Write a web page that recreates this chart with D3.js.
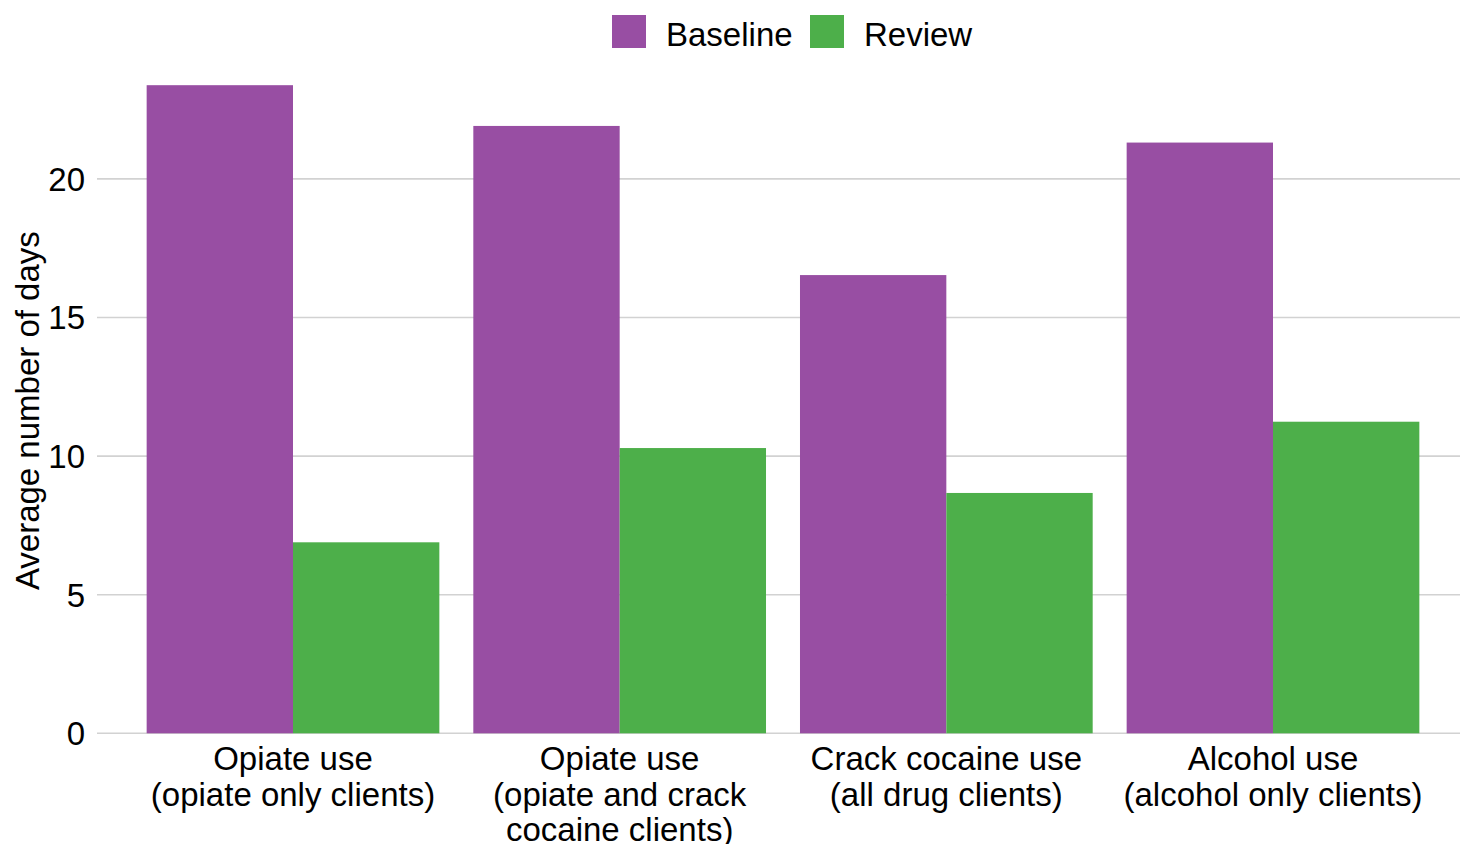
<!DOCTYPE html>
<html>
<head>
<meta charset="utf-8">
<script src="https://cdn.jsdelivr.net/npm/d3@7"></script>
<style>
  html, body { margin: 0; padding: 0; background: #fff; }
  svg { display: block; font-family: "Liberation Sans", Arial, sans-serif; }
</style>
</head>
<body>
<svg id="chart" width="1460" height="844"></svg>
<script>
// Average number of days of use, at baseline and at review
const categories = [
  ["Opiate use", "(opiate only clients)"],
  ["Opiate use", "(opiate and crack", "cocaine clients)"],
  ["Crack cocaine use", "(all drug clients)"],
  ["Alcohol use", "(alcohol only clients)"]
];
const seriesNames = ["Baseline", "Review"];
const baselineValues = [23.38, 21.91, 16.53, 21.31];
const reviewValues = [6.89, 10.29, 8.67, 11.24];
const yTicks = [0, 5, 10, 15, 20];
const yTitle = "Average number of days";

const colors = { Baseline: "#984EA3", Review: "#4DAF4A" };

const svg = d3.select("#chart");
const W = 1460, H = 844;
const plot = { left: 97, right: 1469, top: 68, bottom: 733.3 };

const keys = categories.map((c, i) => "c" + i);
const x0 = d3.scaleBand()
  .domain(keys)
  .range([plot.left, plot.right])
  .paddingInner(0.104)
  .paddingOuter(0.152);
const x1 = d3.scaleBand()
  .domain(seriesNames)
  .range([0, x0.bandwidth()]);
const y = d3.scaleLinear()
  .domain([0, 24])
  .range([plot.bottom, plot.top]);

// Horizontal gridlines
svg.append("g")
  .selectAll("line")
  .data(yTicks)
  .join("line")
  .attr("x1", plot.left)
  .attr("x2", W)
  .attr("y1", d => y(d))
  .attr("y2", d => y(d))
  .attr("stroke", "#d2d2d2")
  .attr("stroke-width", 1.6);

// Y tick labels
svg.append("g")
  .selectAll("text")
  .data(yTicks)
  .join("text")
  .attr("x", 85)
  .attr("y", d => y(d))
  .attr("dy", "0.36em")
  .attr("text-anchor", "end")
  .attr("font-size", 33)
  .attr("fill", "#000")
  .text(d => d);

// Y axis title
svg.append("text")
  .attr("transform", `translate(39, ${(plot.bottom + 88) / 2}) rotate(-90)`)
  .attr("text-anchor", "middle")
  .attr("font-size", 33)
  .attr("fill", "#000")
  .text(yTitle);

// Bars
const rows = categories.map((c, i) => ({
  key: keys[i],
  values: [
    { series: "Baseline", value: baselineValues[i] },
    { series: "Review", value: reviewValues[i] }
  ]
}));

svg.append("g")
  .selectAll("g")
  .data(rows)
  .join("g")
  .attr("transform", d => `translate(${x0(d.key)},0)`)
  .selectAll("rect")
  .data(d => d.values)
  .join("rect")
  .attr("x", d => x1(d.series))
  .attr("width", x1.bandwidth())
  .attr("y", d => y(d.value))
  .attr("height", d => y(0) - y(d.value))
  .attr("fill", d => colors[d.series]);

// Category labels
const xLabels = svg.append("g")
  .selectAll("text")
  .data(categories.map((c, i) => ({ key: keys[i], lines: c })))
  .join("text")
  .attr("x", d => x0(d.key) + x0.bandwidth() / 2)
  .attr("y", 770)
  .attr("text-anchor", "middle")
  .attr("font-size", 33)
  .attr("fill", "#000");
xLabels.selectAll("tspan")
  .data(d => d.lines.map(l => ({ l, x: x0(d.key) + x0.bandwidth() / 2 })))
  .join("tspan")
  .attr("x", d => d.x)
  .attr("dy", (d, i) => i === 0 ? 0 : 35.5)
  .text(d => d.l);

// Legend
const legendItems = [
  { name: "Baseline", sx: 612, tx: 666 },
  { name: "Review", sx: 810, tx: 864 }
];
const legend = svg.append("g");
legend.selectAll("rect")
  .data(legendItems)
  .join("rect")
  .attr("x", d => d.sx)
  .attr("y", 15)
  .attr("width", 34)
  .attr("height", 33)
  .attr("fill", d => colors[d.name]);
legend.selectAll("text")
  .data(legendItems)
  .join("text")
  .attr("x", d => d.tx)
  .attr("y", 46)
  .attr("font-size", 33)
  .attr("fill", "#000")
  .text(d => d.name);
</script>
</body>
</html>
